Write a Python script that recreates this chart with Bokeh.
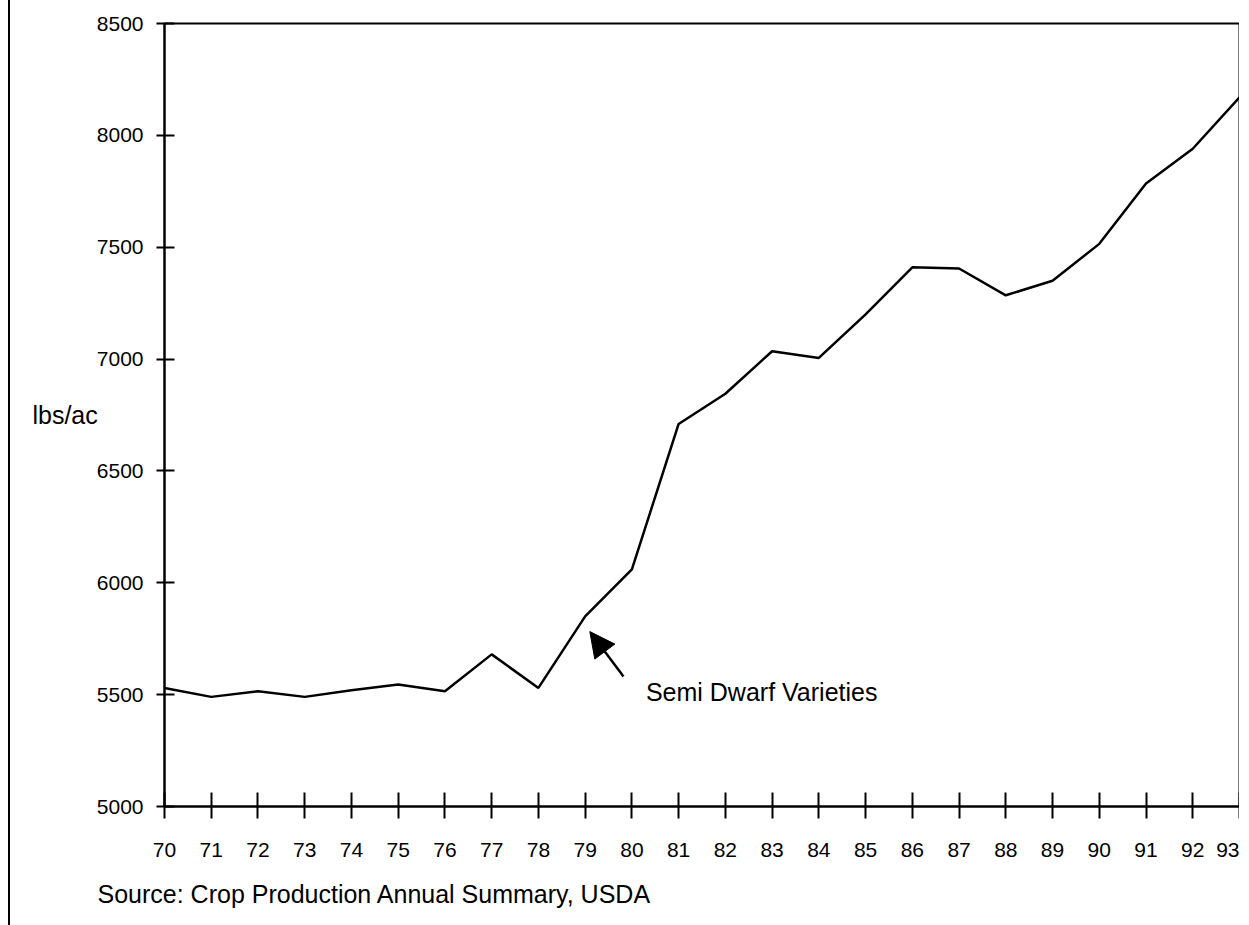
from bokeh.plotting import figure
from bokeh.models import FixedTicker, Label, Arrow, NormalHead, Range1d, Title
from bokeh.embed import file_html
from bokeh.resources import INLINE

# ---- data ----
years = list(range(70, 94))
yields = [5530, 5490, 5515, 5490, 5520, 5545, 5515, 5680, 5530, 5850,
          6060, 6710, 6845, 7035, 7005, 7200, 7410, 7405, 7285, 7350,
          7515, 7785, 7940, 8170]
y_ticks = [5000, 5500, 6000, 6500, 7000, 7500, 8000, 8500]
y_label = "lbs/ac"
source_text = "Source: Crop Production Annual Summary, USDA"
note_text = "Semi Dwarf Varieties"

TICK_FONT = "'Liberation Sans', Arial, sans-serif"
TEXT_FONT = "'Liberation Sans', Arial, sans-serif"

p = figure(width=1231, height=925, output_backend="svg", toolbar_location=None,
           x_range=Range1d(70, 93), y_range=Range1d(5000, 8500),
           min_border_left=154, min_border_right=2, min_border_top=23,
           min_border_bottom=119)
p.styles = {"margin-left": "8px", "border-left": "2px solid black"}

p.xgrid.visible = False
p.ygrid.visible = False
p.outline_line_color = "black"
p.outline_line_width = 2
p.background_fill_color = "white"
p.border_fill_color = "white"

# axes
p.xaxis.ticker = FixedTicker(ticks=years)
p.yaxis.ticker = FixedTicker(ticks=y_ticks)
for ax in (p.xaxis, p.yaxis):
    ax.axis_line_color = "black"
    ax.axis_line_width = 2
    ax.major_tick_line_color = "black"
    ax.major_tick_line_width = 2
    ax.minor_tick_line_color = None
    ax.major_label_text_font = TICK_FONT
    ax.major_label_text_font_size = "21px"
    ax.major_label_text_color = "black"
p.xaxis.major_tick_in = 14
p.xaxis.major_tick_out = 12
p.xaxis.major_label_standoff = 24
p.yaxis.major_tick_in = 10
p.yaxis.major_tick_out = 8
p.yaxis.major_label_standoff = 13

# y axis label (horizontal)
p.yaxis.axis_label = y_label
p.yaxis.axis_label_orientation = "horizontal"
p.yaxis.axis_label_text_font = TEXT_FONT
p.yaxis.axis_label_text_font_style = "normal"
p.yaxis.axis_label_text_font_size = "25px"
p.yaxis.axis_label_text_color = "black"
p.yaxis.axis_label_standoff = -4

# data line
p.line(years, yields, line_color="black", line_width=2.5)

# annotation
p.add_layout(Arrow(end=NormalHead(size=25, fill_color="black", line_color="black"),
                   x_start=79.82, y_start=5581, x_end=79.10, y_end=5782,
                   line_color="black", line_width=2.5))
p.add_layout(Label(x=80.3, y=5510, text=note_text, text_font=TEXT_FONT,
                   text_font_size="25px", text_baseline="middle", text_align="left",
                   text_color="black"))

# source line below the axis
p.add_layout(Title(text=source_text, align="left", offset=-67, standoff=36,
                   text_font=TEXT_FONT, text_font_size="25px",
                   text_font_style="normal", text_color="black"), "below")

open("out.html", "w").write(file_html(p, INLINE))
